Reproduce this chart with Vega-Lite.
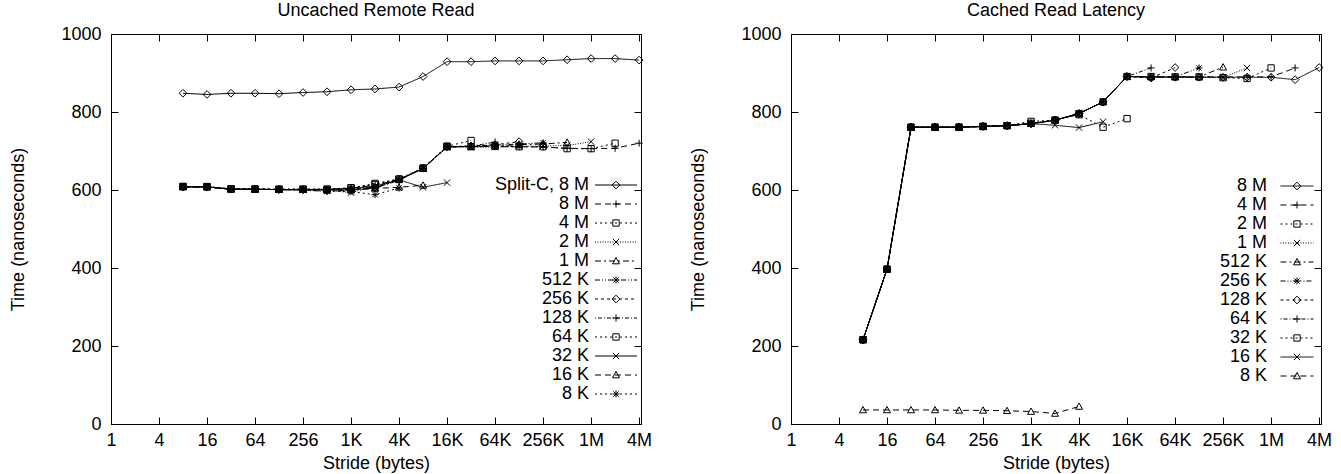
{
  "$schema": "https://vega.github.io/schema/vega-lite/v6.json",
  "padding": {"left": 9, "top": 1, "right": 0, "bottom": 0},
  "spacing": 36,
  "resolve": {"scale": {"strokeDash": "independent", "shape": "independent"}, "legend": {"strokeDash": "independent", "shape": "independent"}},
  "config": {
    "font": "Liberation Sans",
    "view": {"stroke": "black", "strokeWidth": 1},
    "axis": {"labelFont": "Liberation Sans", "titleFont": "Liberation Sans", "labelFontSize": 18, "titleFontSize": 18, "titleFontWeight": "normal", "labelColor": "black", "titleColor": "black", "domainColor": "black", "tickColor": "black", "grid": false, "labelFlush": false, "labelOverlap": false, "labelBound": false},
    "title": {"font": "Liberation Sans", "fontSize": 18, "fontWeight": "normal", "color": "black", "offset": 5},
    "legend": {"labelFont": "Liberation Sans", "labelFontSize": 18, "labelColor": "black", "padding": 0, "rowPadding": 1, "title": null}
  },
  "datasets": {
    "uncached": [
      {"series":"Split-C, 8 M","stride":8,"ns":848},{"series":"Split-C, 8 M","stride":16,"ns":845},{"series":"Split-C, 8 M","stride":32,"ns":848},{"series":"Split-C, 8 M","stride":64,"ns":848},{"series":"Split-C, 8 M","stride":128,"ns":847},{"series":"Split-C, 8 M","stride":256,"ns":850},{"series":"Split-C, 8 M","stride":512,"ns":852},{"series":"Split-C, 8 M","stride":1024,"ns":857},{"series":"Split-C, 8 M","stride":2048,"ns":859},{"series":"Split-C, 8 M","stride":4096,"ns":864},{"series":"Split-C, 8 M","stride":8192,"ns":891},{"series":"Split-C, 8 M","stride":16384,"ns":929},{"series":"Split-C, 8 M","stride":32768,"ns":929},{"series":"Split-C, 8 M","stride":65536,"ns":931},{"series":"Split-C, 8 M","stride":131072,"ns":931},{"series":"Split-C, 8 M","stride":262144,"ns":931},{"series":"Split-C, 8 M","stride":524288,"ns":934},{"series":"Split-C, 8 M","stride":1048576,"ns":937},{"series":"Split-C, 8 M","stride":2097152,"ns":937},{"series":"Split-C, 8 M","stride":4194304,"ns":933},
      {"series":"8 M","stride":8,"ns":608},{"series":"8 M","stride":16,"ns":608},{"series":"8 M","stride":32,"ns":603},{"series":"8 M","stride":64,"ns":602},{"series":"8 M","stride":128,"ns":601},{"series":"8 M","stride":256,"ns":602},{"series":"8 M","stride":512,"ns":601},{"series":"8 M","stride":1024,"ns":605},{"series":"8 M","stride":2048,"ns":612},{"series":"8 M","stride":4096,"ns":627},{"series":"8 M","stride":8192,"ns":656},{"series":"8 M","stride":16384,"ns":711},{"series":"8 M","stride":32768,"ns":712},{"series":"8 M","stride":65536,"ns":711},{"series":"8 M","stride":131072,"ns":711},{"series":"8 M","stride":262144,"ns":710},{"series":"8 M","stride":524288,"ns":707},{"series":"8 M","stride":1048576,"ns":706},{"series":"8 M","stride":2097152,"ns":707},{"series":"8 M","stride":4194304,"ns":720},
      {"series":"4 M","stride":8,"ns":609},{"series":"4 M","stride":16,"ns":609},{"series":"4 M","stride":32,"ns":603},{"series":"4 M","stride":64,"ns":603},{"series":"4 M","stride":128,"ns":602},{"series":"4 M","stride":256,"ns":602},{"series":"4 M","stride":512,"ns":602},{"series":"4 M","stride":1024,"ns":606},{"series":"4 M","stride":2048,"ns":614},{"series":"4 M","stride":4096,"ns":628},{"series":"4 M","stride":8192,"ns":656},{"series":"4 M","stride":16384,"ns":712},{"series":"4 M","stride":32768,"ns":711},{"series":"4 M","stride":65536,"ns":712},{"series":"4 M","stride":131072,"ns":711},{"series":"4 M","stride":262144,"ns":711},{"series":"4 M","stride":524288,"ns":706},{"series":"4 M","stride":1048576,"ns":706},{"series":"4 M","stride":2097152,"ns":720},
      {"series":"2 M","stride":8,"ns":608},{"series":"2 M","stride":16,"ns":608},{"series":"2 M","stride":32,"ns":602},{"series":"2 M","stride":64,"ns":602},{"series":"2 M","stride":128,"ns":601},{"series":"2 M","stride":256,"ns":601},{"series":"2 M","stride":512,"ns":600},{"series":"2 M","stride":1024,"ns":593},{"series":"2 M","stride":2048,"ns":610},{"series":"2 M","stride":4096,"ns":626},{"series":"2 M","stride":8192,"ns":655},{"series":"2 M","stride":16384,"ns":710},{"series":"2 M","stride":32768,"ns":710},{"series":"2 M","stride":65536,"ns":710},{"series":"2 M","stride":131072,"ns":712},{"series":"2 M","stride":262144,"ns":713},{"series":"2 M","stride":524288,"ns":714},{"series":"2 M","stride":1048576,"ns":724},
      {"series":"1 M","stride":8,"ns":608},{"series":"1 M","stride":16,"ns":608},{"series":"1 M","stride":32,"ns":602},{"series":"1 M","stride":64,"ns":602},{"series":"1 M","stride":128,"ns":601},{"series":"1 M","stride":256,"ns":601},{"series":"1 M","stride":512,"ns":600},{"series":"1 M","stride":1024,"ns":600},{"series":"1 M","stride":2048,"ns":605},{"series":"1 M","stride":4096,"ns":626},{"series":"1 M","stride":8192,"ns":655},{"series":"1 M","stride":16384,"ns":710},{"series":"1 M","stride":32768,"ns":711},{"series":"1 M","stride":65536,"ns":713},{"series":"1 M","stride":131072,"ns":716},{"series":"1 M","stride":262144,"ns":718},{"series":"1 M","stride":524288,"ns":722},
      {"series":"512 K","stride":8,"ns":608},{"series":"512 K","stride":16,"ns":608},{"series":"512 K","stride":32,"ns":602},{"series":"512 K","stride":64,"ns":602},{"series":"512 K","stride":128,"ns":601},{"series":"512 K","stride":256,"ns":600},{"series":"512 K","stride":512,"ns":596},{"series":"512 K","stride":1024,"ns":600},{"series":"512 K","stride":2048,"ns":605},{"series":"512 K","stride":4096,"ns":625},{"series":"512 K","stride":8192,"ns":655},{"series":"512 K","stride":16384,"ns":710},{"series":"512 K","stride":32768,"ns":712},{"series":"512 K","stride":65536,"ns":715},{"series":"512 K","stride":131072,"ns":718},{"series":"512 K","stride":262144,"ns":721},
      {"series":"256 K","stride":8,"ns":608},{"series":"256 K","stride":16,"ns":608},{"series":"256 K","stride":32,"ns":602},{"series":"256 K","stride":64,"ns":602},{"series":"256 K","stride":128,"ns":601},{"series":"256 K","stride":256,"ns":601},{"series":"256 K","stride":512,"ns":600},{"series":"256 K","stride":1024,"ns":602},{"series":"256 K","stride":2048,"ns":606},{"series":"256 K","stride":4096,"ns":627},{"series":"256 K","stride":8192,"ns":656},{"series":"256 K","stride":16384,"ns":711},{"series":"256 K","stride":32768,"ns":713},{"series":"256 K","stride":65536,"ns":716},{"series":"256 K","stride":131072,"ns":724},
      {"series":"128 K","stride":8,"ns":608},{"series":"128 K","stride":16,"ns":608},{"series":"128 K","stride":32,"ns":602},{"series":"128 K","stride":64,"ns":602},{"series":"128 K","stride":128,"ns":601},{"series":"128 K","stride":256,"ns":601},{"series":"128 K","stride":512,"ns":601},{"series":"128 K","stride":1024,"ns":603},{"series":"128 K","stride":2048,"ns":607},{"series":"128 K","stride":4096,"ns":627},{"series":"128 K","stride":8192,"ns":655},{"series":"128 K","stride":16384,"ns":711},{"series":"128 K","stride":32768,"ns":712},{"series":"128 K","stride":65536,"ns":723},
      {"series":"64 K","stride":8,"ns":609},{"series":"64 K","stride":16,"ns":608},{"series":"64 K","stride":32,"ns":603},{"series":"64 K","stride":64,"ns":602},{"series":"64 K","stride":128,"ns":602},{"series":"64 K","stride":256,"ns":602},{"series":"64 K","stride":512,"ns":602},{"series":"64 K","stride":1024,"ns":605},{"series":"64 K","stride":2048,"ns":617},{"series":"64 K","stride":4096,"ns":628},{"series":"64 K","stride":8192,"ns":656},{"series":"64 K","stride":16384,"ns":712},{"series":"64 K","stride":32768,"ns":727},
      {"series":"32 K","stride":8,"ns":608},{"series":"32 K","stride":16,"ns":608},{"series":"32 K","stride":32,"ns":602},{"series":"32 K","stride":64,"ns":602},{"series":"32 K","stride":128,"ns":601},{"series":"32 K","stride":256,"ns":601},{"series":"32 K","stride":512,"ns":602},{"series":"32 K","stride":1024,"ns":604},{"series":"32 K","stride":2048,"ns":610},{"series":"32 K","stride":4096,"ns":626},{"series":"32 K","stride":8192,"ns":607},{"series":"32 K","stride":16384,"ns":619},
      {"series":"16 K","stride":8,"ns":608},{"series":"16 K","stride":16,"ns":608},{"series":"16 K","stride":32,"ns":602},{"series":"16 K","stride":64,"ns":602},{"series":"16 K","stride":128,"ns":601},{"series":"16 K","stride":256,"ns":601},{"series":"16 K","stride":512,"ns":600},{"series":"16 K","stride":1024,"ns":600},{"series":"16 K","stride":2048,"ns":604},{"series":"16 K","stride":4096,"ns":607},{"series":"16 K","stride":8192,"ns":612},
      {"series":"8 K","stride":8,"ns":608},{"series":"8 K","stride":16,"ns":608},{"series":"8 K","stride":32,"ns":602},{"series":"8 K","stride":64,"ns":602},{"series":"8 K","stride":128,"ns":601},{"series":"8 K","stride":256,"ns":600},{"series":"8 K","stride":512,"ns":597},{"series":"8 K","stride":1024,"ns":596},{"series":"8 K","stride":2048,"ns":588},{"series":"8 K","stride":4096,"ns":605}
    ],
    "cached": [
      {"series":"8 M","stride":8,"ns":216},{"series":"8 M","stride":16,"ns":397},{"series":"8 M","stride":32,"ns":761},{"series":"8 M","stride":64,"ns":761},{"series":"8 M","stride":128,"ns":761},{"series":"8 M","stride":256,"ns":763},{"series":"8 M","stride":512,"ns":765},{"series":"8 M","stride":1024,"ns":770},{"series":"8 M","stride":2048,"ns":779},{"series":"8 M","stride":4096,"ns":796},{"series":"8 M","stride":8192,"ns":826},{"series":"8 M","stride":16384,"ns":891},{"series":"8 M","stride":32768,"ns":889},{"series":"8 M","stride":65536,"ns":889},{"series":"8 M","stride":131072,"ns":889},{"series":"8 M","stride":262144,"ns":889},{"series":"8 M","stride":524288,"ns":889},{"series":"8 M","stride":1048576,"ns":889},{"series":"8 M","stride":2097152,"ns":883},{"series":"8 M","stride":4194304,"ns":914},
      {"series":"4 M","stride":8,"ns":216},{"series":"4 M","stride":16,"ns":397},{"series":"4 M","stride":32,"ns":762},{"series":"4 M","stride":64,"ns":761},{"series":"4 M","stride":128,"ns":761},{"series":"4 M","stride":256,"ns":763},{"series":"4 M","stride":512,"ns":765},{"series":"4 M","stride":1024,"ns":771},{"series":"4 M","stride":2048,"ns":779},{"series":"4 M","stride":4096,"ns":796},{"series":"4 M","stride":8192,"ns":826},{"series":"4 M","stride":16384,"ns":891},{"series":"4 M","stride":32768,"ns":890},{"series":"4 M","stride":65536,"ns":890},{"series":"4 M","stride":131072,"ns":890},{"series":"4 M","stride":262144,"ns":890},{"series":"4 M","stride":524288,"ns":890},{"series":"4 M","stride":1048576,"ns":890},{"series":"4 M","stride":2097152,"ns":913},
      {"series":"2 M","stride":8,"ns":216},{"series":"2 M","stride":16,"ns":397},{"series":"2 M","stride":32,"ns":761},{"series":"2 M","stride":64,"ns":761},{"series":"2 M","stride":128,"ns":761},{"series":"2 M","stride":256,"ns":763},{"series":"2 M","stride":512,"ns":765},{"series":"2 M","stride":1024,"ns":771},{"series":"2 M","stride":2048,"ns":779},{"series":"2 M","stride":4096,"ns":796},{"series":"2 M","stride":8192,"ns":826},{"series":"2 M","stride":16384,"ns":891},{"series":"2 M","stride":32768,"ns":891},{"series":"2 M","stride":65536,"ns":890},{"series":"2 M","stride":131072,"ns":890},{"series":"2 M","stride":262144,"ns":888},{"series":"2 M","stride":524288,"ns":886},{"series":"2 M","stride":1048576,"ns":913},
      {"series":"1 M","stride":8,"ns":216},{"series":"1 M","stride":16,"ns":397},{"series":"1 M","stride":32,"ns":761},{"series":"1 M","stride":64,"ns":761},{"series":"1 M","stride":128,"ns":761},{"series":"1 M","stride":256,"ns":763},{"series":"1 M","stride":512,"ns":765},{"series":"1 M","stride":1024,"ns":770},{"series":"1 M","stride":2048,"ns":779},{"series":"1 M","stride":4096,"ns":795},{"series":"1 M","stride":8192,"ns":826},{"series":"1 M","stride":16384,"ns":891},{"series":"1 M","stride":32768,"ns":890},{"series":"1 M","stride":65536,"ns":890},{"series":"1 M","stride":131072,"ns":890},{"series":"1 M","stride":262144,"ns":889},{"series":"1 M","stride":524288,"ns":913},
      {"series":"512 K","stride":8,"ns":216},{"series":"512 K","stride":16,"ns":397},{"series":"512 K","stride":32,"ns":761},{"series":"512 K","stride":64,"ns":761},{"series":"512 K","stride":128,"ns":761},{"series":"512 K","stride":256,"ns":763},{"series":"512 K","stride":512,"ns":765},{"series":"512 K","stride":1024,"ns":770},{"series":"512 K","stride":2048,"ns":779},{"series":"512 K","stride":4096,"ns":796},{"series":"512 K","stride":8192,"ns":826},{"series":"512 K","stride":16384,"ns":891},{"series":"512 K","stride":32768,"ns":890},{"series":"512 K","stride":65536,"ns":890},{"series":"512 K","stride":131072,"ns":890},{"series":"512 K","stride":262144,"ns":915},
      {"series":"256 K","stride":8,"ns":216},{"series":"256 K","stride":16,"ns":397},{"series":"256 K","stride":32,"ns":761},{"series":"256 K","stride":64,"ns":761},{"series":"256 K","stride":128,"ns":761},{"series":"256 K","stride":256,"ns":763},{"series":"256 K","stride":512,"ns":765},{"series":"256 K","stride":1024,"ns":770},{"series":"256 K","stride":2048,"ns":779},{"series":"256 K","stride":4096,"ns":796},{"series":"256 K","stride":8192,"ns":826},{"series":"256 K","stride":16384,"ns":891},{"series":"256 K","stride":32768,"ns":890},{"series":"256 K","stride":65536,"ns":890},{"series":"256 K","stride":131072,"ns":913},
      {"series":"128 K","stride":8,"ns":216},{"series":"128 K","stride":16,"ns":397},{"series":"128 K","stride":32,"ns":761},{"series":"128 K","stride":64,"ns":761},{"series":"128 K","stride":128,"ns":761},{"series":"128 K","stride":256,"ns":763},{"series":"128 K","stride":512,"ns":765},{"series":"128 K","stride":1024,"ns":770},{"series":"128 K","stride":2048,"ns":779},{"series":"128 K","stride":4096,"ns":796},{"series":"128 K","stride":8192,"ns":826},{"series":"128 K","stride":16384,"ns":891},{"series":"128 K","stride":32768,"ns":887},{"series":"128 K","stride":65536,"ns":914},
      {"series":"64 K","stride":8,"ns":216},{"series":"64 K","stride":16,"ns":397},{"series":"64 K","stride":32,"ns":761},{"series":"64 K","stride":64,"ns":761},{"series":"64 K","stride":128,"ns":761},{"series":"64 K","stride":256,"ns":763},{"series":"64 K","stride":512,"ns":765},{"series":"64 K","stride":1024,"ns":770},{"series":"64 K","stride":2048,"ns":779},{"series":"64 K","stride":4096,"ns":796},{"series":"64 K","stride":8192,"ns":826},{"series":"64 K","stride":16384,"ns":891},{"series":"64 K","stride":32768,"ns":913},
      {"series":"32 K","stride":8,"ns":216},{"series":"32 K","stride":16,"ns":397},{"series":"32 K","stride":32,"ns":761},{"series":"32 K","stride":64,"ns":761},{"series":"32 K","stride":128,"ns":761},{"series":"32 K","stride":256,"ns":763},{"series":"32 K","stride":512,"ns":765},{"series":"32 K","stride":1024,"ns":776},{"series":"32 K","stride":2048,"ns":779},{"series":"32 K","stride":4096,"ns":793},{"series":"32 K","stride":8192,"ns":761},{"series":"32 K","stride":16384,"ns":783},
      {"series":"16 K","stride":8,"ns":216},{"series":"16 K","stride":16,"ns":397},{"series":"16 K","stride":32,"ns":761},{"series":"16 K","stride":64,"ns":761},{"series":"16 K","stride":128,"ns":761},{"series":"16 K","stride":256,"ns":763},{"series":"16 K","stride":512,"ns":765},{"series":"16 K","stride":1024,"ns":770},{"series":"16 K","stride":2048,"ns":766},{"series":"16 K","stride":4096,"ns":760},{"series":"16 K","stride":8192,"ns":775},
      {"series":"8 K","stride":8,"ns":36},{"series":"8 K","stride":16,"ns":36},{"series":"8 K","stride":32,"ns":36},{"series":"8 K","stride":64,"ns":36},{"series":"8 K","stride":128,"ns":35},{"series":"8 K","stride":256,"ns":35},{"series":"8 K","stride":512,"ns":34},{"series":"8 K","stride":1024,"ns":32},{"series":"8 K","stride":2048,"ns":27},{"series":"8 K","stride":4096,"ns":45}
    ]
  },
  "hconcat": [
    {
      "data": {"name": "uncached"},
      "title": {"text": "Uncached Remote Read"},
      "width": 530,
      "height": 390,
      "layer": [
        {
          "mark": {"type": "line", "stroke": "black", "strokeWidth": 1},
          "encoding": {
            "x": {"field": "stride", "type": "quantitative", "scale": {"type": "log", "base": 2, "domain": [1, 4430000], "nice": false},
                  "axis": {"orient": "bottom", "title": "Stride (bytes)", "values": [1,4,16,64,256,1024,4096,16384,65536,262144,1048576,4194304], "labelExpr": "datum.value >= 1048576 ? (datum.value/1048576) + 'M' : datum.value >= 1024 ? (datum.value/1024) + 'K' : '' + datum.value", "tickSize": -7, "labelPadding": 14, "titlePadding": 5}},
            "y": {"field": "ns", "type": "quantitative", "scale": {"domain": [0, 1000], "nice": false},
                  "axis": {"orient": "left", "title": "Time (nanoseconds)", "format": "d", "values": [0,200,400,600,800,1000], "tickSize": -7, "labelPadding": 17, "titlePadding": 33}},
            "strokeDash": {"field": "series", "type": "nominal",
              "scale": {"domain": ["Split-C, 8 M","8 M","4 M","2 M","1 M","512 K","256 K","128 K","64 K","32 K","16 K","8 K"],
                        "range": [[1,0],[6,4],[2,3],[1,1.5],[6,3,2,3],[5,2,1,2,1,2],[3,3],[1,2,4,2],[2,3],[1,0],[6,4],[2,3]]},
              "legend": {"orient": "none", "legendX": 478, "legendY": 142, "symbolType": "M-3,0L3,0", "symbolSize": 196, "symbolStrokeWidth": 1, "symbolStrokeColor": "black", "symbolFillColor": "transparent", "labelAlign": "right", "labelOffset": -36, "symbolOffset": 18}}
          }
        },
        {
          "mark": {"type": "point", "filled": false, "stroke": "black", "strokeWidth": 1, "size": 196, "opacity": 1},
          "encoding": {
            "x": {"field": "stride", "type": "quantitative",
                  "axis": {"orient": "top", "title": null, "labels": false, "values": [1,4,16,64,256,1024,4096,16384,65536,262144,1048576,4194304], "tickSize": -7}},
            "y": {"field": "ns", "type": "quantitative",
                  "axis": {"orient": "right", "title": null, "labels": false, "values": [0,200,400,600,800,1000], "tickSize": -7}},
            "shape": {"field": "series", "type": "nominal",
              "sort": ["Split-C, 8 M","8 M","4 M","2 M","1 M","512 K","256 K","128 K","64 K","32 K","16 K","8 K"],
              "scale": {"range": ["M0,-0.55L0.55,0L0,0.55L-0.55,0Z","M-0.5,0L0.5,0M0,-0.5L0,0.5","M-0.45,-0.45L0.45,-0.45L0.45,0.45L-0.45,0.45Z","M-0.45,-0.45L0.45,0.45M-0.45,0.45L0.45,-0.45","M0,-0.5L0.5,0.4L-0.5,0.4Z","M-0.5,0L0.5,0M0,-0.5L0,0.5M-0.38,-0.38L0.38,0.38M-0.38,0.38L0.38,-0.38","M0,-0.55L0.55,0L0,0.55L-0.55,0Z","M-0.5,0L0.5,0M0,-0.5L0,0.5","M-0.45,-0.45L0.45,-0.45L0.45,0.45L-0.45,0.45Z","M-0.45,-0.45L0.45,0.45M-0.45,0.45L0.45,-0.45","M0,-0.5L0.5,0.4L-0.5,0.4Z","M-0.5,0L0.5,0M0,-0.5L0,0.5M-0.38,-0.38L0.38,0.38M-0.38,0.38L0.38,-0.38"]},
              "legend": {"orient": "none", "legendX": 478, "legendY": 142, "symbolSize": 196, "symbolStrokeWidth": 1, "symbolStrokeColor": "black", "symbolFillColor": "transparent", "labelAlign": "right", "labelOffset": -36, "symbolOffset": 18, "labelOpacity": 0}}
          }
        }
      ],
      "resolve": {"axis": {"x": "independent", "y": "independent"}}
    },
    {
      "data": {"name": "cached"},
      "title": {"text": "Cached Read Latency"},
      "width": 530,
      "height": 390,
      "layer": [
        {
          "mark": {"type": "line", "stroke": "black", "strokeWidth": 1},
          "encoding": {
            "x": {"field": "stride", "type": "quantitative", "scale": {"type": "log", "base": 2, "domain": [1, 4430000], "nice": false},
                  "axis": {"orient": "bottom", "title": "Stride (bytes)", "values": [1,4,16,64,256,1024,4096,16384,65536,262144,1048576,4194304], "labelExpr": "datum.value >= 1048576 ? (datum.value/1048576) + 'M' : datum.value >= 1024 ? (datum.value/1024) + 'K' : '' + datum.value", "tickSize": -7, "labelPadding": 14, "titlePadding": 5}},
            "y": {"field": "ns", "type": "quantitative", "scale": {"domain": [0, 1000], "nice": false},
                  "axis": {"orient": "left", "title": "Time (nanoseconds)", "format": "d", "values": [0,200,400,600,800,1000], "tickSize": -7, "labelPadding": 17, "titlePadding": 33}},
            "strokeDash": {"field": "series", "type": "nominal",
              "scale": {"domain": ["8 M","4 M","2 M","1 M","512 K","256 K","128 K","64 K","32 K","16 K","8 K"],
                        "range": [[1,0],[6,4],[2,3],[1,1.5],[6,3,2,3],[5,2,1,2,1,2],[3,3],[1,2,4,2],[2,3],[1,0],[6,4]]},
              "legend": {"orient": "none", "legendX": 476, "legendY": 143, "symbolType": "M-2.36,0L2.36,0", "symbolSize": 196, "symbolStrokeWidth": 1, "symbolStrokeColor": "black", "symbolFillColor": "transparent", "labelAlign": "right", "labelOffset": -39, "symbolOffset": 21}}
          }
        },
        {
          "mark": {"type": "point", "filled": false, "stroke": "black", "strokeWidth": 1, "size": 196, "opacity": 1},
          "encoding": {
            "x": {"field": "stride", "type": "quantitative",
                  "axis": {"orient": "top", "title": null, "labels": false, "values": [1,4,16,64,256,1024,4096,16384,65536,262144,1048576,4194304], "tickSize": -7}},
            "y": {"field": "ns", "type": "quantitative",
                  "axis": {"orient": "right", "title": null, "labels": false, "values": [0,200,400,600,800,1000], "tickSize": -7}},
            "shape": {"field": "series", "type": "nominal",
              "sort": ["8 M","4 M","2 M","1 M","512 K","256 K","128 K","64 K","32 K","16 K","8 K"],
              "scale": {"range": ["M0,-0.55L0.55,0L0,0.55L-0.55,0Z","M-0.5,0L0.5,0M0,-0.5L0,0.5","M-0.45,-0.45L0.45,-0.45L0.45,0.45L-0.45,0.45Z","M-0.45,-0.45L0.45,0.45M-0.45,0.45L0.45,-0.45","M0,-0.5L0.5,0.4L-0.5,0.4Z","M-0.5,0L0.5,0M0,-0.5L0,0.5M-0.38,-0.38L0.38,0.38M-0.38,0.38L0.38,-0.38","M0,-0.55L0.55,0L0,0.55L-0.55,0Z","M-0.5,0L0.5,0M0,-0.5L0,0.5","M-0.45,-0.45L0.45,-0.45L0.45,0.45L-0.45,0.45Z","M-0.45,-0.45L0.45,0.45M-0.45,0.45L0.45,-0.45","M0,-0.5L0.5,0.4L-0.5,0.4Z"]},
              "legend": {"orient": "none", "legendX": 476, "legendY": 143, "symbolSize": 196, "symbolStrokeWidth": 1, "symbolStrokeColor": "black", "symbolFillColor": "transparent", "labelAlign": "right", "labelOffset": -39, "symbolOffset": 21, "labelOpacity": 0}}
          }
        }
      ],
      "resolve": {"axis": {"x": "independent", "y": "independent"}}
    }
  ]
}
